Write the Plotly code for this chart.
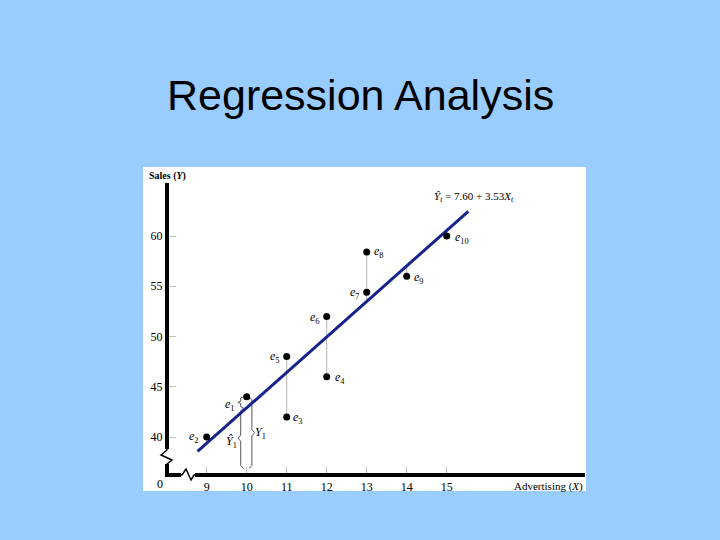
import plotly.graph_objects as go

# ---------------- data ----------------
advertising = [10, 9, 11, 12, 11, 12, 13, 13, 14, 15]
sales = [44, 40, 42, 46, 48, 52, 54.4, 58.4, 56, 60]
point_labels = ["e1", "e2", "e3", "e4", "e5", "e6", "e7", "e8", "e9", "e10"]
intercept = 7.60
slope = 3.53
line_x = [8.77, 15.54]
y_ticks = [40, 45, 50, 55, 60]
x_ticks = [9, 10, 11, 12, 13, 14, 15]

# ---------------- layout calibration (pixels) ----------------
W, H = 720, 540
L, R, T, B = 169, 585, 183, 473
X9_PX, X_PPU = 206.7, 40.0
Y40_PX, Y_PPU = 437.0, 10.05
x_range = [9 + (L - X9_PX) / X_PPU, 9 + (R - X9_PX) / X_PPU]
y_range = [40 - (B - Y40_PX) / Y_PPU, 40 + (Y40_PX - T) / Y_PPU]


def px(x, y):
    return (x - L) / (R - L), (B - y) / (B - T)


def yhat(x):
    return intercept + slope * x


SERIF = "Liberation Serif, Times New Roman, serif"
fig = go.Figure()

# residual connector lines (thin gray), one per distinct X (except the braced one)
groups = {}
for xv, yv in zip(advertising, sales):
    groups.setdefault(xv, []).append(yv)
first_x = advertising[0]
for xv, ys in groups.items():
    if xv == first_x:
        continue
    vals = ys + [yhat(xv)]
    fig.add_trace(go.Scatter(x=[xv, xv], y=[min(vals), max(vals)], mode="lines",
                             line=dict(color="#b0b0b0", width=1),
                             hoverinfo="skip", showlegend=False))


# braces for the first observation
def brace(xc, y0, y1, d, h=0.07, e=0.3, dl=0.3):
    ym = (y0 + y1) / 2
    xs = [xc - d * h, xc, xc, xc + d * h, xc, xc, xc - d * h]
    ys = [y0, y0 + e, ym - dl, ym, ym + dl, y1 - e, y1]
    return xs, ys


y_first = sales[0]
yh_first = yhat(first_x)
y_base = y_range[0] + 0.45
for (bx, by0, by1, d, e, dl) in [
    (first_x - 0.15, y_base, yh_first, -1, 0.3, 0.3),
    (first_x - 0.15, yh_first, y_first, -1, 0.12, 0.12),
    (first_x + 0.13, y_base, y_first, 1, 0.3, 0.3),
]:
    bxs, bys = brace(bx, by0, by1, d, e=e, dl=dl)
    fig.add_trace(go.Scatter(x=bxs, y=bys, mode="lines",
                             line=dict(color="#555555", width=1),
                             hoverinfo="skip", showlegend=False))

# regression line
fig.add_trace(go.Scatter(x=line_x, y=[yhat(v) for v in line_x], mode="lines",
                         line=dict(color="#16238c", width=3),
                         hoverinfo="skip", showlegend=False))

# data points
fig.add_trace(go.Scatter(x=advertising, y=sales, mode="markers",
                         marker=dict(color="black", size=7),
                         showlegend=False))

# point labels
offsets = {"e1": (-17, -3), "e2": (-13, 0), "e3": (11, -1), "e4": (13, -1),
           "e5": (-12, 0), "e6": (-12, -2), "e7": (-12, -1), "e8": (12, 0),
           "e9": (12, -2), "e10": (15, -2)}
annotations = []
for lab, xv, yv in zip(point_labels, advertising, sales):
    dx, dy = offsets[lab]
    yy = yv
    if lab == "e1":
        yy = (yv + yh_first) / 2
    annotations.append(dict(x=xv, y=yy, xref="x", yref="y", xshift=dx, yshift=dy,
                            text="<i>e</i><sub>%s</sub>" % lab[1:], showarrow=False,
                            font=dict(family=SERIF, size=12, color="black")))
# Y-hat and Y labels beside braces
annotations.append(dict(x=first_x, y=(y_base + yh_first) / 2, xref="x", yref="y",
                        xshift=-15, yshift=-4, text="<i>Ŷ</i><sub>1</sub>", showarrow=False,
                        font=dict(family=SERIF, size=12, color="black")))
annotations.append(dict(x=first_x, y=(y_base + y_first) / 2, xref="x", yref="y",
                        xshift=14, yshift=0, text="<i>Y</i><sub>1</sub>", showarrow=False,
                        font=dict(family=SERIF, size=12, color="black")))

# title and axis captions
tx, ty = px(360, 95)
annotations.append(dict(x=tx, y=ty, xref="paper", yref="paper", text="Regression Analysis",
                        showarrow=False, xanchor="center", yanchor="middle",
                        font=dict(family="Liberation Sans, Arial, sans-serif", size=43, color="black")))
sx, sy = px(147, 176)
annotations.append(dict(x=sx, y=sy, xref="paper", yref="paper", text="<b>Sales (<i>Y</i>)</b>",
                        showarrow=False, xanchor="left", yanchor="middle",
                        font=dict(family=SERIF, size=10, color="black")))
ax_, ay_ = px(585, 486)
annotations.append(dict(x=ax_, y=ay_, xref="paper", yref="paper", text="Advertising (<i>X</i>)",
                        showarrow=False, xanchor="right", yanchor="middle",
                        font=dict(family=SERIF, size=11, color="black")))
ex, ey = px(474, 197)
annotations.append(dict(x=ex, y=ey, xref="paper", yref="paper",
                        text="<i>Ŷ</i><sub><i>t</i></sub> = 7.60 + 3.53<i>X</i><sub><i>t</i></sub>",
                        showarrow=False, xanchor="center", yanchor="middle",
                        font=dict(family=SERIF, size=11, color="black")))
ox, oy = px(160, 484)
annotations.append(dict(x=ox, y=oy, xref="paper", yref="paper", text="0",
                        showarrow=False, xanchor="center", yanchor="middle",
                        font=dict(family=SERIF, size=12, color="black")))

# shapes: white panel, axis breaks
shapes = []
bx0, by0 = px(143, 491)
bx1, by1 = px(586, 167)
shapes.append(dict(type="rect", xref="paper", yref="paper", x0=bx0, y0=by0, x1=bx1, y1=by1,
                   fillcolor="white", line=dict(width=0), layer="below"))


def ppath(points):
    s = ""
    for i, (a, b) in enumerate(points):
        u, v = px(a, b)
        s += ("M" if i == 0 else "L") + "%.5f,%.5f " % (u, v)
    return s


# y-axis break
wx0, wy0 = px(162, 464)
wx1, wy1 = px(172, 449)
shapes.append(dict(type="rect", xref="paper", yref="paper", x0=wx0, y0=wy0, x1=wx1, y1=wy1,
                   fillcolor="white", line=dict(width=0), layer="above"))
shapes.append(dict(type="path", xref="paper", yref="paper",
                   path=ppath([(167, 448), (167, 450), (161, 455), (172, 460), (167, 464), (167, 466)]),
                   line=dict(color="black", width=1.5), layer="above"))
# x-axis break
wx0, wy0 = px(181, 478)
wx1, wy1 = px(195, 471)
shapes.append(dict(type="rect", xref="paper", yref="paper", x0=wx0, y0=wy0, x1=wx1, y1=wy1,
                   fillcolor="white", line=dict(width=0), layer="above"))
shapes.append(dict(type="path", xref="paper", yref="paper",
                   path=ppath([(180, 475), (182, 475), (186, 469), (191, 480), (194, 475), (196, 475)]),
                   line=dict(color="black", width=1.5), layer="above"))

fig.update_layout(
    width=W, height=H,
    margin=dict(l=L, r=W - R, t=T, b=H - B, pad=0),
    paper_bgcolor="#99CCFF",
    plot_bgcolor="white",
    showlegend=False,
    annotations=annotations,
    shapes=shapes,
    xaxis=dict(range=x_range, tickvals=x_ticks, ticktext=[str(v) for v in x_ticks],
               showgrid=False, zeroline=False, showline=True, linewidth=4, linecolor="black",
               ticks="inside", ticklen=6, tickcolor="#c0c0c0", tickwidth=1,
               tickfont=dict(family=SERIF, size=12, color="black"), fixedrange=True),
    yaxis=dict(range=y_range, tickvals=y_ticks, ticktext=[str(v) for v in y_ticks],
               showgrid=False, zeroline=False, showline=True, linewidth=4, linecolor="black",
               ticks="inside", ticklen=7, tickcolor="#c0c0c0", tickwidth=1,
               tickfont=dict(family=SERIF, size=12, color="black"), fixedrange=True),
)

fig.write_html(
    "out.html",
    config={"displayModeBar": False},
    post_script="document.body.style.margin='0';document.body.style.padding='0';"
                "document.body.style.background='#99CCFF';",
)
